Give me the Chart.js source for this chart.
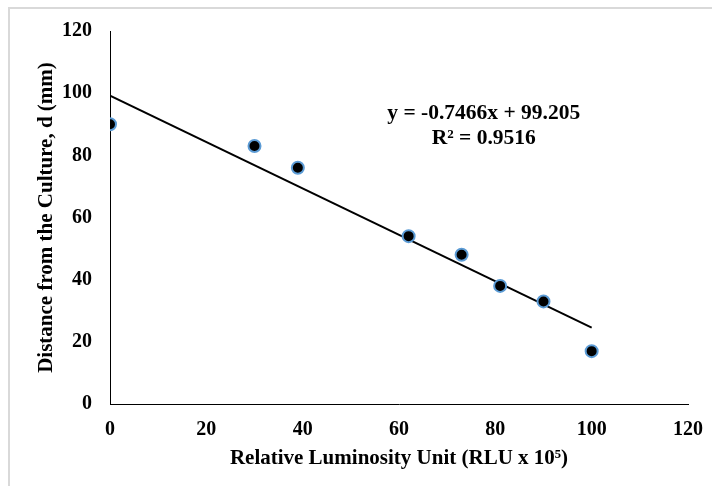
<!DOCTYPE html>
<html>
<head>
<meta charset="utf-8">
<script src="https://cdn.jsdelivr.net/npm/chart.js@4.4.0/dist/chart.umd.min.js"></script>
<style>
  html, body { margin: 0; padding: 0; background: #fff; }
  #wrap { position: relative; width: 712px; height: 486px; overflow: hidden; }
  #frame { position: absolute; left: 8px; top: 7px; width: 720px; height: 500px; border-left: 2px solid #d9d9d9; border-top: 2px solid #d9d9d9; }
  canvas { position: absolute; left: 0; top: 0; }
</style>
</head>
<body>
<div id="wrap">
  <div id="frame"></div>
  <canvas id="chart" width="712" height="486"></canvas>
</div>
<script>
// measured points
const rluValues = [0, 30, 39, 62, 73, 81, 90, 100];
const distValues = [90, 83, 76, 54, 48, 38, 33, 17];

// linear trendline as given on the chart
const trendSlope = -0.7466;
const trendIntercept = 99.205;
const trendRange = [0, 100];
const trendLabel = ['y = -0.7466x + 99.205', 'R\u00b2 = 0.9516'];

const xTitle = 'Relative Luminosity Unit (RLU x 10\u2075)';
const yTitle = 'Distance from the Culture, d (mm)';

const FONT = "'Liberation Serif', 'Times New Roman', serif";

const points = rluValues.map((x, i) => ({ x: x, y: distValues[i] }));
const trend = trendRange.map(x => ({ x: x, y: trendSlope * x + trendIntercept }));

// trendline equation, placed in data coords
const eqPlugin = {
  id: 'eq',
  afterDatasetsDraw(chart) {
    const ctx = chart.ctx;
    const xs = chart.scales.x, ys = chart.scales.y;
    ctx.save();
    ctx.fillStyle = '#000';
    ctx.font = 'bold 21.5px ' + FONT;
    ctx.textAlign = 'center';
    ctx.textBaseline = 'middle';
    ctx.fillText(trendLabel[0], xs.getPixelForValue(77.6), ys.getPixelForValue(93.5));
    ctx.fillText(trendLabel[1], xs.getPixelForValue(77.6), ys.getPixelForValue(85.5));
    ctx.restore();
  }
};

new Chart(document.getElementById('chart'), {
  type: 'scatter',
  data: {
    datasets: [
      {
        type: 'line',
        data: trend,
        borderColor: '#000',
        borderWidth: 2,
        pointRadius: 0,
        fill: false,
        order: 2
      },
      {
        data: points,
        backgroundColor: '#000',
        borderColor: '#5b9bd5',
        borderWidth: 2,
        pointRadius: 6,
        order: 1
      }
    ]
  },
  options: {
    responsive: false,
    animation: false,
    layout: { padding: { left: 0, right: 24, top: 31, bottom: 0 } },
    plugins: { legend: { display: false }, tooltip: { enabled: false } },
    scales: {
      x: {
        type: 'linear',
        min: 0, max: 120,
        ticks: { stepSize: 20, color: '#000', font: { family: FONT, size: 20, weight: 'bold' }, padding: 14, maxRotation: 0 },
        grid: { display: false, drawTicks: false },
        border: { color: '#000', width: 1 },
        title: { display: true, text: xTitle, color: '#000', font: { family: FONT, size: 21, weight: 'bold' }, padding: { top: 0, bottom: 15 } },
        afterFit(scale) { scale.height = 82; scale.paddingRight = 0; scale.paddingLeft = 0; }
      },
      y: {
        min: 0, max: 120,
        ticks: { stepSize: 20, color: '#000', font: { family: FONT, size: 20, weight: 'bold' }, padding: 18 },
        grid: { display: false, drawTicks: false },
        border: { color: '#000', width: 1 },
        title: { display: true, text: yTitle, color: '#000', font: { family: FONT, size: 21, weight: 'bold' }, padding: { top: 34, bottom: 0 } },
        afterFit(scale) { scale.width = 110; scale.paddingTop = 0; scale.paddingBottom = 0; }
      }
    }
  },
  plugins: [eqPlugin]
});
</script>
</body>
</html>
